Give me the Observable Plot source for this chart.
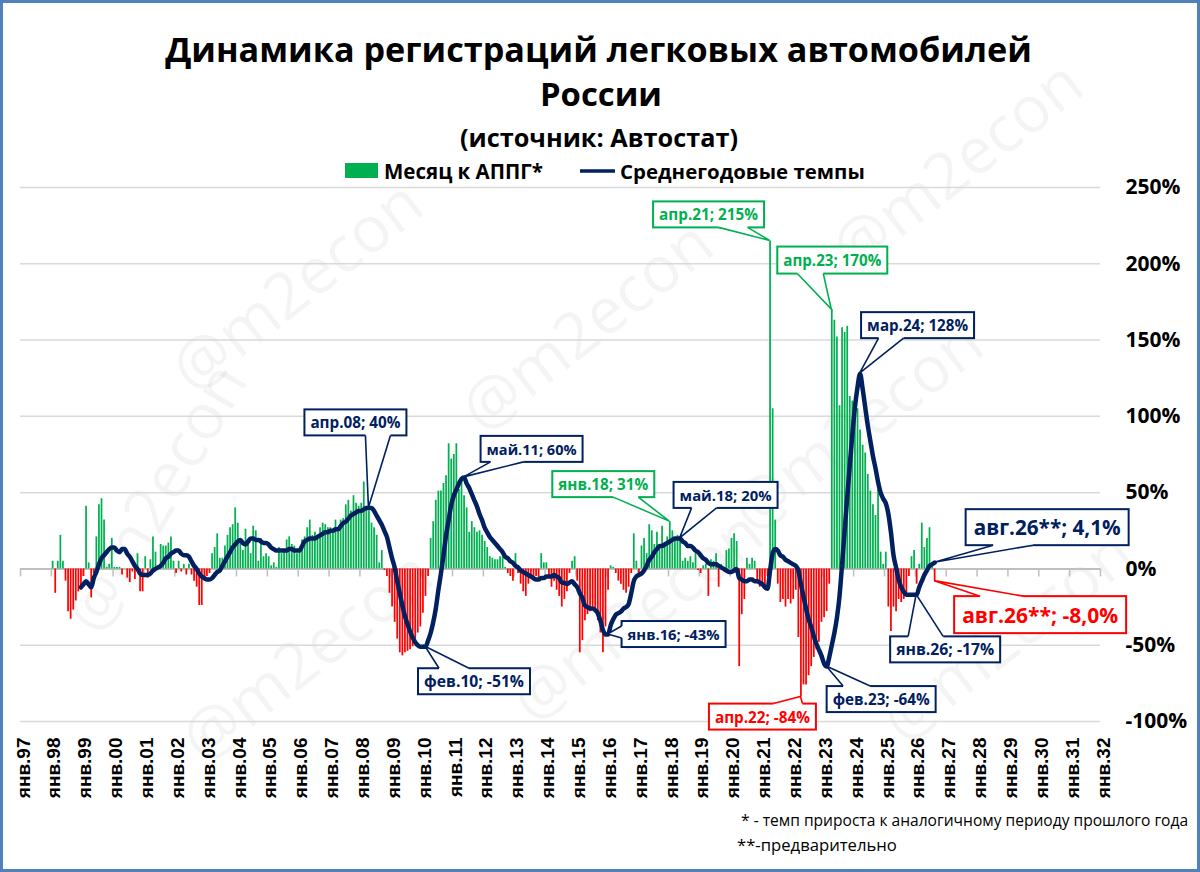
<!DOCTYPE html>
<html>
<head>
<meta charset="utf-8">
<script src="https://cdn.jsdelivr.net/npm/d3@7"></script>
<script src="https://cdn.jsdelivr.net/npm/@observablehq/plot@0.6"></script>
<style>
  html, body { margin: 0; padding: 0; background: #fff; }
  #frame { position: relative; width: 1200px; height: 872px; overflow: hidden; background: #fff; }
  #chart { position: absolute; left: 0; top: 0; }
  #border { position: absolute; left: 0; top: 0; width: 1200px; height: 872px; box-sizing: border-box;
            border: 3px solid #4F81BD; pointer-events: none; }
</style>
</head>
<body>
<div id="frame">
  <div id="chart"></div>
  <div id="border"></div>
</div>
<script>
// ---------------- DATA ----------------
// Monthly growth vs same month of previous year (%), "Месяц к АППГ*"
const y1998 = [5, -16, 5, 22, 5, -8, -28, -33, -27, -21, -15, -14];
const y1999 = [-5, 41, 4, -19, -3, 21, 42, 46, 32, 1, 3, 20];
const y2000 = [1, 1, 1, -4, 0, -6, -9, -2, -7, 10, -15, -15];
const y2001 = [8, -6, 6, 21, 11, 2, 16, 15, 15, 17, 21, 5];
const y2002 = [-3, 5, -2, 3, -4, 3, -4, -8, -12, -24, -24, -8];
const y2003 = [-5, -3, 10, 14, 23, 7, 7, 15, 22, 27, 29, 40];
const y2004 = [30, 18, 12, 26, 16, 10, 28, 25, 5, 20, 8, 10];
const y2005 = [8, 2, 4, 1, 14, 10, 12, 19, 21, 16, 15, 10];
const y2006 = [12, 19, 21, 27, 32, 22, 24, 20, 27, 30, 29, 27];
const y2007 = [27, 25, 32, 27, 32, 33, 42, 45, 38, 48, 43, 41];
const y2008 = [43, 57, 41, 38, 30, 27, 22, 4, 12, -1, -5, -16];
const y2009 = [-25, -35, -46, -55, -57, -55, -54, -53, -51, -46, -42, -38];
const y2010 = [-29, -18, -5, 20, 31, 45, 51, 51, 56, 61, 82, 72];
const y2011 = [75, 82, 52, 59, 48, 40, 24, 31, 27, 24, 25, 22];
const y2012 = [18, 14, 8, 7, 6, 6, 8, 8, 1, -3, -5, -8];
const y2013 = [10, -3, -10, -15, -18, -10, -5, -8, -5, -6, 10, 4];
const y2014 = [4, -5, -12, -8, -14, -18, -25, -20, -15, -3, 5, 8];
const y2015 = [-8, -55, -47, -34, -30, -28, -25, -28, -34, -42, -55, -38];
const y2016 = [-14, 2, 1, -3, -8, -10, -14, -16, -12, -3, 23, 5];
const y2017 = [-3, 15, 20, 10, 29, 25, 16, 24, 14, 28, 15, 21];
const y2018 = [31, 25, 20, 22, 20, 5, 7, 5, 8, 4, 10, -1];
const y2019 = [-3, 2, 3, -18, 6, 5, 10, -12, 3, 0, 12, 13];
const y2020 = [20, 23, 18, -64, -30, -20, 7, 3, 7, 5, -7, -12];
const y2021 = [-10, -14, -5, 215, 105, 32, -10, -22, -20, -25, -20, -23];
const y2022 = [-20, -14, -45, -84, -76, -76, -70, -64, -58, -53, -48, -35];
const y2023 = [-32, -28, -10, 170, 163, 152, 107, 158, 155, 159, 113, 110];
const y2024 = [107, 105, 91, 81, 76, 62, 51, 42, 35, 52, 11, 3];
const y2025 = [11, -25, -41, -25, -28, -20, -22, -20, -18, -5, 8, 12];
const y2026 = [-10, 3, 30, 14, 20, 27, 3, -8];

// Average annual growth rate (%), "Среднегодовые темпы"
const a1998 = [null, null, null, null, null, null, null, null, null, null, null, -12];
const a1999 = [-10, -8, -10, -12, -6, -2, 3, 7, 9, 11, 13, 14];
const a2000 = [14, 12, 11, 13, 13, 10, 8, 5, 2, 0, -3, -4];
const a2001 = [-4, -4, -3, -1, 0, 1, 2, 4, 7, 8, 10, 11];
const a2002 = [12, 12, 10, 9, 9, 8, 5, 2, 0, -3, -5, -6];
const a2003 = [-7, -7, -6, -4, -2, -1, 2, 5, 8, 11, 14, 16];
const a2004 = [18, 19, 17, 16, 18, 20, 20, 19, 19, 18, 17, 17];
const a2005 = [16, 14, 13, 12, 12, 12, 12, 12, 13, 13, 12, 12];
const a2006 = [12, 15, 18, 19, 20, 20, 20, 21, 22, 23, 24, 24];
const a2007 = [25, 25, 26, 26, 28, 30, 31, 33, 35, 36, 37, 38];
const a2008 = [38, 39, 40, 40, 40, 38, 35, 32, 29, 25, 21, 14];
const a2009 = [7, 1, -8, -16, -24, -31, -36, -41, -45, -48, -50, -51];
const a2010 = [-51, -51, -47, -42, -35, -26, -14, -3, 9, 22, 32, 42];
const a2011 = [48, 52, 56, 59, 60, 56, 53, 49, 45, 41, 36, 32];
const a2012 = [27, 24, 21, 19, 17, 15, 13, 11, 8, 7, 5, 4];
const a2013 = [2, 1, -1, -2, -3, -4, -5, -6, -7, -7, -6, -6];
const a2014 = [-5, -5, -5, -4, -5, -6, -9, -9, -10, -9, -8, -10];
const a2015 = [-12, -16, -19, -24, -25, -26, -26, -27, -29, -34, -40, -43];
const a2016 = [-43, -37, -33, -30, -29, -28, -26, -25, -23, -16, -8, -5];
const a2017 = [-4, -3, -1, 2, 6, 8, 11, 13, 15, 15, 16, 17];
const a2018 = [18, 19, 20, 20, 20, 18, 17, 15, 15, 14, 12, 11];
const a2019 = [9, 7, 6, 4, 3, 3, 3, 2, 1, 0, -1, -2];
const a2020 = [-2, -1, 0, -6, -7, -8, -8, -7, -7, -8, -8, -9];
const a2021 = [-10, -12, -13, -1, 10, 13, 12, 9, 8, 6, 5, 4];
const a2022 = [3, 2, -1, -10, -18, -26, -33, -38, -44, -49, -53, -57];
const a2023 = [-62, -64, -58, -50, -42, -32, -18, 3, 25, 47, 68, 88];
const a2024 = [106, 119, 128, 118, 106, 94, 84, 74, 66, 57, 50, 46];
const a2025 = [43, 36, 24, 9, 1, -7, -12, -15, -17, -17, -17, -17];
const a2026 = [-17, -12, -8, -4, -1, 2, 3, 4.1];

const dataYears = [1998, 1999, 2000, 2001, 2002, 2003, 2004, 2005, 2006, 2007, 2008, 2009, 2010, 2011,
  2012, 2013, 2014, 2015, 2016, 2017, 2018, 2019, 2020, 2021, 2022, 2023, 2024, 2025, 2026];
const monthlySeries = [y1998, y1999, y2000, y2001, y2002, y2003, y2004, y2005, y2006, y2007, y2008, y2009,
  y2010, y2011, y2012, y2013, y2014, y2015, y2016, y2017, y2018, y2019, y2020, y2021, y2022, y2023,
  y2024, y2025, y2026];
const annualSeries = [a1998, a1999, a2000, a2001, a2002, a2003, a2004, a2005, a2006, a2007, a2008, a2009,
  a2010, a2011, a2012, a2013, a2014, a2015, a2016, a2017, a2018, a2019, a2020, a2021, a2022, a2023,
  a2024, a2025, a2026];

const tickYears = [1997, 1998, 1999, 2000, 2001, 2002, 2003, 2004, 2005, 2006, 2007, 2008, 2009, 2010,
  2011, 2012, 2013, 2014, 2015, 2016, 2017, 2018, 2019, 2020, 2021, 2022, 2023, 2024, 2025, 2026, 2027,
  2028, 2029, 2030, 2031, 2032];
const xTickLabels = ["янв.97", "янв.98", "янв.99", "янв.00", "янв.01", "янв.02", "янв.03", "янв.04",
  "янв.05", "янв.06", "янв.07", "янв.08", "янв.09", "янв.10", "янв.11", "янв.12", "янв.13", "янв.14",
  "янв.15", "янв.16", "янв.17", "янв.18", "янв.19", "янв.20", "янв.21", "янв.22", "янв.23", "янв.24",
  "янв.25", "янв.26", "янв.27", "янв.28", "янв.29", "янв.30", "янв.31", "янв.32"];
const yTicks = [-100, -50, 0, 50, 100, 150, 200, 250];
const yTickLabels = ["-100%", "-50%", "0%", "50%", "100%", "150%", "200%", "250%"];

// Annotated points: which series, which month, label text
const callouts = [
  {series: "line", year: 2008, month: 4, label: "апр.08; 40%", kind: "navy"},
  {series: "line", year: 2010, month: 2, label: "фев.10; -51%", kind: "navy"},
  {series: "line", year: 2011, month: 5, label: "май.11; 60%", kind: "navy"},
  {series: "bar", year: 2018, month: 1, label: "янв.18; 31%", kind: "green"},
  {series: "line", year: 2018, month: 5, label: "май.18; 20%", kind: "navy"},
  {series: "line", year: 2016, month: 1, label: "янв.16; -43%", kind: "navy"},
  {series: "bar", year: 2021, month: 4, label: "апр.21; 215%", kind: "green"},
  {series: "bar", year: 2023, month: 4, label: "апр.23; 170%", kind: "green"},
  {series: "line", year: 2024, month: 3, label: "мар.24; 128%", kind: "navy"},
  {series: "bar", year: 2022, month: 4, label: "апр.22; -84%", kind: "red"},
  {series: "line", year: 2023, month: 2, label: "фев.23; -64%", kind: "navy"},
  {series: "line", year: 2026, month: 1, label: "янв.26; -17%", kind: "navy"},
  {series: "line", year: 2026, month: 8, label: "авг.26**; 4,1%", kind: "navyBig"},
  {series: "bar", year: 2026, month: 8, label: "авг.26**; -8,0%", kind: "redBig"}
];

const titleLines = ["Динамика регистраций легковых автомобилей", "России", "(источник: Автостат)"];
const legendLabels = ["Месяц к АППГ*", "Среднегодовые темпы"];
const footnotes = ["* - темп прироста к аналогичному периоду прошлого года", "**-предварительно"];
const watermarkText = "@m2econ";

// ---------------- LAYOUT / STYLE ----------------
const COLORS = {green: "#00B050", red: "#FF0000", navy: "#002060", grid: "#D9D9D9", axis: "#BFBFBF"};
const FONT = "'Open Sans', 'Noto Sans', sans-serif";
// callout box: box centre offset from tip, box size, side of wedge, wedge base (offsets along side)
const calloutLayout = [
  {bx: -13, by: -85, w: 102, h: 26, side: "bottom", s1: -3, s2: 22},
  {bx: 49, by: 35, w: 112, h: 26, side: "top", s1: 14, s2: 44},
  {bx: 68, by: -28, w: 102, h: 26, side: "bottom", s1: 27, s2: 60},
  {bx: -66, by: -37, w: 102, h: 26, side: "bottom", s1: -56, s2: -31},
  {bx: 46, by: -43, w: 104, h: 26, side: "bottom", s1: 12, s2: 37},
  {bx: 66, by: 0, w: 104, h: 26, side: "left", s1: -8, s2: 4},
  {bx: -61, by: -26, w: 111, h: 26, side: "bottom", s1: -51, s2: -22},
  {bx: 1, by: -49, w: 110, h: 27, side: "bottom", s1: -34, s2: -8},
  {bx: 58, by: -48, w: 113, h: 26, side: "bottom", s1: 19, s2: 44},
  {bx: -38, by: 20, w: 107, h: 26, side: "top", s1: -27, s2: 2},
  {bx: 55, by: 33, w: 109, h: 26, side: "top", s1: 17, s2: 44},
  {bx: 29, by: 55, w: 110, h: 26, side: "top", s1: -8, s2: 27},
  {bx: 113, by: -35, w: 163, h: 36, side: "bottom", s1: 59, s2: 99},
  {bx: 106, by: 34, w: 172, h: 37, side: "top", s1: 46, s2: 89}
];
const kindStyle = {
  navy: {color: COLORS.navy, big: false},
  navyBig: {color: COLORS.navy, big: true},
  green: {color: COLORS.green, big: false},
  red: {color: COLORS.red, big: false},
  redBig: {color: COLORS.red, big: true}
};

// ---------------- TABLES ----------------
const monthPos = (year, m) => year + (m + 0.5) / 12; // m: 0..11
const bars = [];
const lineData = [];
dataYears.forEach((yr, i) => {
  monthlySeries[i].forEach((v, m) => { if (v != null) bars.push({t: monthPos(yr, m), v, year: yr, month: m + 1}); });
  annualSeries[i].forEach((v, m) => { if (v != null) lineData.push({t: monthPos(yr, m), v, year: yr, month: m + 1}); });
});

// ---------------- PLOT ----------------
const plot = Plot.plot({
  width: 1200,
  height: 872,
  marginLeft: 20,
  marginRight: 100,
  marginTop: 187,
  marginBottom: 151,
  x: {domain: [1997, 2032], axis: null},
  y: {domain: [-100, 250], axis: null},
  style: {background: "transparent", fontFamily: FONT, overflow: "visible"},
  marks: [
    Plot.gridY(yTicks, {stroke: COLORS.grid, strokeOpacity: 1, strokeWidth: 1.5}),
    Plot.ruleY([0], {stroke: COLORS.axis, strokeWidth: 2}),
    Plot.ruleX(tickYears, {x: d => d, y1: 0, y2: 0, insetBottom: -8, stroke: COLORS.axis, strokeWidth: 1.5}),
    Plot.ruleX(bars.filter(d => d.v >= 0), {x: "t", y1: 0, y2: "v", stroke: COLORS.green, strokeWidth: 1.75}),
    Plot.ruleX(bars.filter(d => d.v < 0), {x: "t", y1: 0, y2: "v", stroke: COLORS.red, strokeWidth: 1.75}),
    Plot.line(lineData, {x: "t", y: "v", stroke: COLORS.navy, strokeWidth: 4.5, curve: "monotone-x",
      strokeLinejoin: "round", strokeLinecap: "round"}),
    Plot.text(yTicks, {y: d => d, frameAnchor: "right", dx: 25, textAnchor: "start",
      text: (d, i) => yTickLabels[i], fontSize: 21, fontWeight: "bold", fill: "#000",
      fontFamily: FONT}),
    Plot.text(tickYears, {x: d => d, frameAnchor: "bottom", dy: 16, dx: 3, rotate: -90, textAnchor: "end",
      lineAnchor: "middle", text: (d, i) => xTickLabels[i], fontSize: 19, fontWeight: "bold", fill: "#000",
      fontFamily: "'Liberation Sans', Arial, sans-serif"})
  ]
});
document.getElementById("chart").appendChild(plot);

const svg = d3.select(plot);
const sx = plot.scale("x"), sy = plot.scale("y");

// fit text width helper
function fit(node, target) {
  const w = node.getComputedTextLength();
  const fs = parseFloat(node.getAttribute("font-size"));
  if (w > 0) node.setAttribute("font-size", (fs * target / w).toFixed(2));
}

// watermark (behind everything)
const wm = svg.insert("g", ":first-child").attr("fill", "#000").attr("fill-opacity", 0.045)
  .attr("font-family", "'Open Sans', sans-serif").attr("font-size", 64).attr("text-anchor", "middle");
const wmPlaces = [[300, 290, -38], [590, 330, -38], [860, 430, -38], [960, 170, -38],
  [310, 660, -38], [640, 620, -38], [1010, 640, -38], [160, 500, -60]];
wmPlaces.forEach(([x, y, r]) => {
  wm.append("text").attr("dominant-baseline", "middle")
    .attr("transform", `translate(${x},${y}) rotate(${r})`).text(watermarkText);
});

// titles
const tg = svg.append("g").attr("font-family", FONT).attr("font-weight", "bold").attr("fill", "#000")
  .attr("text-anchor", "middle");
const titleSpecs = [
  {x: 598.5, y: 62, w: 867, fs: 36},
  {x: 601, y: 106, w: 122, fs: 36},
  {x: 599, y: 147, w: 278, fs: 26}
];
titleLines.forEach((s, i) => {
  const sp = titleSpecs[i];
  const t = tg.append("text").attr("x", sp.x).attr("y", sp.y).attr("font-size", sp.fs).text(s);
  fit(t.node(), sp.w);
});

// legend
const lg = svg.append("g").attr("font-family", FONT).attr("font-weight", "bold").attr("fill", "#000")
  .attr("text-anchor", "start");
lg.append("rect").attr("x", 345).attr("y", 163).attr("width", 33).attr("height", 15).attr("fill", COLORS.green);
const l1 = lg.append("text").attr("x", 384).attr("y", 179).attr("font-size", 20).text(legendLabels[0]);
fit(l1.node(), 159);
lg.append("line").attr("x1", 580).attr("x2", 615).attr("y1", 171).attr("y2", 171)
  .attr("stroke", COLORS.navy).attr("stroke-width", 3.5);
const l2 = lg.append("text").attr("x", 620).attr("y", 179).attr("font-size", 20).text(legendLabels[1]);
fit(l2.node(), 245);

// footnotes
const fg = svg.append("g").attr("font-family", FONT).attr("fill", "#000").attr("text-anchor", "start");
const f1 = fg.append("text").attr("x", 741).attr("y", 826).attr("font-size", 16).text(footnotes[0]);
fit(f1.node(), 447);
const f2 = fg.append("text").attr("x", 737).attr("y", 851).attr("font-size", 16).text(footnotes[1]);
fit(f2.node(), 160);

// callouts
const cg = svg.append("g").attr("font-family", FONT).attr("font-weight", "bold").attr("text-anchor", "middle");
callouts.forEach((c, i) => {
  const L = calloutLayout[i];
  const st = kindStyle[c.kind];
  const src = c.series === "line" ? lineData : bars;
  const d = src.find(p => p.year === c.year && p.month === c.month);
  if (!d) return;
  const tx = sx.apply(d.t), ty = sy.apply(d.v);
  const cx = tx + L.bx, cy = ty + L.by;
  const left = cx - L.w / 2, top = cy - L.h / 2, right = cx + L.w / 2, bottom = cy + L.h / 2;
  let b1, b2, inward;
  if (L.side === "bottom") { b1 = [tx + L.s1, bottom]; b2 = [tx + L.s2, bottom]; inward = [0, -2]; }
  else if (L.side === "top") { b1 = [tx + L.s1, top]; b2 = [tx + L.s2, top]; inward = [0, 2]; }
  else if (L.side === "left") { b1 = [left, ty + L.s1]; b2 = [left, ty + L.s2]; inward = [2, 0]; }
  else { b1 = [right, ty + L.s1]; b2 = [right, ty + L.s2]; inward = [-2, 0]; }
  const g = cg.append("g");
  g.append("rect").attr("x", left).attr("y", top).attr("width", L.w).attr("height", L.h)
    .attr("fill", "#fff").attr("stroke", st.color).attr("stroke-width", 2);
  g.append("polygon")
    .attr("points", [[b1[0] + inward[0], b1[1] + inward[1]], b1, [tx, ty], b2, [b2[0] + inward[0], b2[1] + inward[1]]]
      .map(p => p.join(",")).join(" "))
    .attr("fill", "#fff").attr("stroke", "none");
  g.append("polyline").attr("points", [b1, [tx, ty], b2].map(p => p.join(",")).join(" "))
    .attr("fill", "none").attr("stroke", st.color).attr("stroke-width", 1.6).attr("stroke-linejoin", "miter");
  const t = g.append("text").attr("x", cx).attr("y", cy)
    .attr("dominant-baseline", "central").attr("fill", st.color)
    .attr("font-size", st.big ? 22 : 16).text(c.label);
  fit(t.node(), L.w - (st.big ? 16 : 12));
});
</script>
</body>
</html>
